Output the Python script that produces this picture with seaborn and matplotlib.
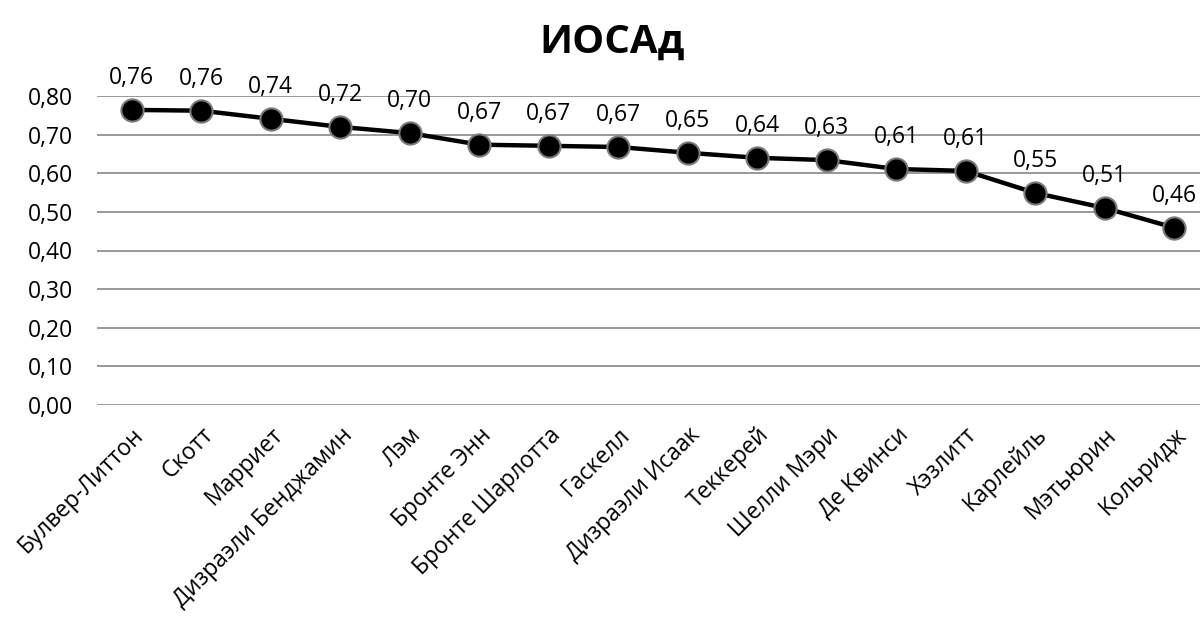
import matplotlib
matplotlib.use("Agg")
import matplotlib.pyplot as plt
import seaborn as sns
import pandas as pd
from matplotlib.ticker import FuncFormatter

authors = ["Булвер-Литтон", "Скотт", "Марриет", "Дизраэли Бенджамин", "Лэм",
           "Бронте Энн", "Бронте Шарлотта", "Гаскелл", "Дизраэли Исаак", "Теккерей",
           "Шелли Мэри", "Де Квинси", "Хэзлитт", "Карлейль", "Мэтьюрин", "Кольридж"]
values = [0.764, 0.762, 0.741, 0.720, 0.704, 0.674, 0.671, 0.668, 0.653, 0.640,
          0.634, 0.611, 0.606, 0.549, 0.510, 0.459]
yticks = [0.0, 0.1, 0.2, 0.3, 0.4, 0.5, 0.6, 0.7, 0.8]
title = "ИОСАд"

sns.set_style("white")
plt.rcParams["font.family"] = ["Open Sans", "DejaVu Sans"]
for k in ["text.color", "axes.labelcolor", "xtick.color", "ytick.color"]:
    plt.rcParams[k] = "black"

df = pd.DataFrame({"author": authors, "value": values, "x": range(len(authors))})

fig = plt.figure(figsize=(12, 6.17), dpi=100)
ax = fig.add_axes([97/1200, 1-405/617, 1-97/1200, (405-96)/617])

for t in yticks:
    ax.axhline(t, color="#868686", lw=1.2, zorder=0)

sns.lineplot(data=df, x="x", y="value", ax=ax, color="black", lw=3.2,
             marker="o", markersize=16, markerfacecolor="black",
             markeredgecolor="#7a7a7a", markeredgewidth=1.5, clip_on=False, zorder=3)

for i, v in enumerate(values):
    ax.annotate(f"{v:.2f}".replace(".", ","), (i, v), xytext=(0, 18.5),
                textcoords="offset points", ha="center", va="baseline",
                fontsize=16.5, color="black", annotation_clip=False)

ax.set_xlim(-0.5, 15.37)
ax.set_ylim(0, 0.8)
ax.set_yticks(yticks)
ax.yaxis.set_major_formatter(FuncFormatter(lambda v, p: f"{v:.2f}".replace(".", ",")))
ax.set_xticks(range(len(authors)))
ax.set_xticklabels(authors, rotation=45, ha="right", rotation_mode="anchor", fontsize=16.5)
ax.tick_params(axis="y", length=0, pad=17, labelsize=16.5)
ax.tick_params(axis="x", length=0, pad=13)
ax.set_xlabel("")
ax.set_ylabel("")
for s in ax.spines.values():
    s.set_visible(False)
ax.grid(False)

fig.text(612/1200, 1-42/617, title, ha="center", va="center", fontsize=29,
         fontweight="bold", color="black")

fig.savefig("out.png", dpi=100)
